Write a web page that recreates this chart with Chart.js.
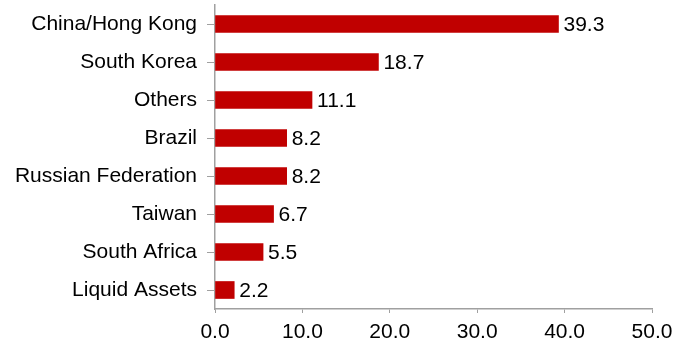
<!DOCTYPE html>
<html>
<head>
<meta charset="utf-8">
<script src="https://cdn.jsdelivr.net/npm/chart.js@4"></script>
<style>
  html, body { margin: 0; padding: 0; background: #fff; }
  #wrap { width: 689px; height: 340px; }
</style>
</head>
<body>
<div id="wrap"><canvas id="allocChart" width="689" height="340"></canvas></div>
<script>
const categories = ["China/Hong Kong", "South Korea", "Others", "Brazil", "Russian Federation", "Taiwan", "South Africa", "Liquid Assets"];
const weights = [39.3, 18.7, 11.1, 8.2, 8.2, 6.7, 5.5, 2.2];
const xTicks = [0, 10, 20, 30, 40, 50];

const FONT = "'Liberation Sans', Arial, sans-serif";
const axisGrey = "#a0a0a0";

const valueLabels = {
  id: "valueLabels",
  afterDatasetsDraw(chart) {
    const ctx = chart.ctx;
    const meta = chart.getDatasetMeta(0);
    ctx.save();
    ctx.font = "21px " + FONT;
    ctx.fillStyle = "#000";
    ctx.textAlign = "left";
    ctx.textBaseline = "middle";
    meta.data.forEach((bar, i) => {
      ctx.fillText(weights[i].toFixed(1), bar.x + 5, bar.y + 1);
    });
    ctx.restore();
  }
};

Chart.defaults.font.family = FONT;
Chart.defaults.font.size = 21;
Chart.defaults.color = "#000";

new Chart(document.getElementById("allocChart"), {
  type: "bar",
  data: {
    labels: categories,
    datasets: [{
      data: weights,
      backgroundColor: "#c00000",
      borderWidth: 0,
      barThickness: 17
    }]
  },
  options: {
    indexAxis: "y",
    responsive: false,
    animation: false,
    layout: { padding: { top: 5, right: 37, bottom: 0, left: 0 } },
    plugins: {
      legend: { display: false },
      tooltip: { enabled: false }
    },
    scales: {
      x: {
        min: 0,
        max: 50,
        afterBuildTicks: (scale) => {
          scale.ticks = xTicks.map((v) => ({ value: v }));
        },
        afterFit: (scale) => {
          scale.height = 31;
          scale.paddingLeft = 0;
          scale.paddingRight = 0;
        },
        ticks: {
          padding: 7,
          callback: (value) => Number(value).toFixed(1)
        },
        grid: {
          drawOnChartArea: false,
          color: axisGrey,
          tickLength: 4
        },
        border: { color: axisGrey, width: 1.5 }
      },
      y: {
        afterFit: (scale) => {
          scale.width = 215;
          scale.paddingTop = 0;
          scale.paddingBottom = 0;
        },
        ticks: { padding: 10 },
        grid: {
          offset: false,
          drawOnChartArea: false,
          color: axisGrey,
          tickLength: 8
        },
        border: { color: axisGrey, width: 1.5 }
      }
    }
  },
  plugins: [valueLabels]
});
</script>
</body>
</html>
